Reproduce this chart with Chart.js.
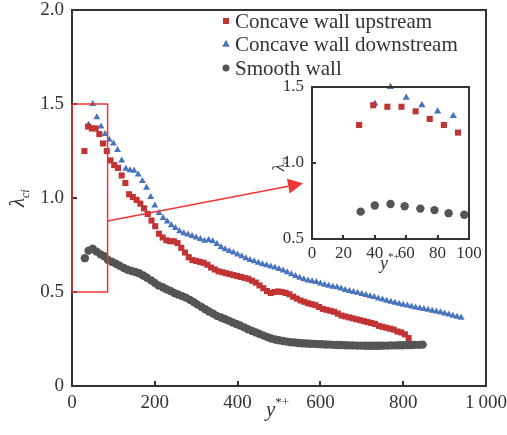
<!DOCTYPE html>
<html>
<head>
<meta charset="utf-8">
<script src="https://cdn.jsdelivr.net/npm/chart.js@4/dist/chart.umd.min.js"></script>
<style>
    body { margin: 0; background: #fff; }
    #wrap { position: relative; width: 507px; height: 435px; }
    #main { position: absolute; left: 0; top: 0; }
    #inset { position: absolute; left: 250px; top: 70px; }
</style>
</head>
<body>
<div id="wrap">
    <canvas id="main" width="507" height="435"></canvas>
    <canvas id="inset" width="240" height="210"></canvas>
</div>
<script>
// values (y*+ , lambda_ci)
var upstreamX = [30, 39, 48, 57, 66, 75, 84, 93, 102, 111, 120, 129, 138, 147, 156, 165, 174, 183, 192, 201,
    210, 219, 228, 237, 246, 255, 264, 273, 282, 291, 300, 309, 318, 327, 336, 345, 354, 363, 372, 381,
    390, 399, 408, 417, 426, 435, 444, 453, 462, 471, 480, 489, 498, 507, 516, 525, 534, 543, 552, 561,
    570, 579, 588, 597, 606, 615, 624, 633, 642, 651, 660, 669, 678, 687, 696, 705, 714, 723, 732, 741,
    750, 759, 768, 777, 786, 795, 804, 813];
var upstreamY = [1.25, 1.38, 1.37, 1.37, 1.34, 1.29, 1.25, 1.20, 1.175, 1.16, 1.12, 1.08, 1.02, 1.005, 0.99, 0.97, 0.945, 0.915, 0.88, 0.85,
    0.81, 0.79, 0.775, 0.77, 0.77, 0.76, 0.735, 0.71, 0.685, 0.67, 0.665, 0.66, 0.655, 0.645, 0.63, 0.62, 0.61, 0.605, 0.6, 0.595,
    0.59, 0.585, 0.58, 0.575, 0.57, 0.56, 0.55, 0.535, 0.52, 0.505, 0.495, 0.5, 0.503, 0.5, 0.495, 0.488, 0.475, 0.465, 0.455, 0.448,
    0.44, 0.435, 0.43, 0.42, 0.41, 0.405, 0.4, 0.395, 0.385, 0.375, 0.37, 0.365, 0.36, 0.355, 0.35, 0.345, 0.34, 0.335, 0.33, 0.32,
    0.315, 0.31, 0.305, 0.3, 0.29, 0.285, 0.275, 0.255];

var downstreamX = [40, 50, 60, 70, 80, 90, 100, 110, 120, 130, 140, 150, 160, 170, 180, 190, 200, 210, 220, 230,
    240, 250, 260, 270, 280, 290, 300, 310, 320, 330, 340, 350, 360, 370, 380, 390, 400, 410, 420, 430,
    440, 450, 460, 470, 480, 490, 500, 510, 520, 530, 540, 550, 560, 570, 580, 590, 600, 610, 620, 630,
    640, 650, 660, 670, 680, 690, 700, 710, 720, 730, 740, 750, 760, 770, 780, 790, 800, 810, 820, 830,
    840, 850, 860, 870, 880, 890, 900, 910, 920, 930, 940];
var downstreamY = [1.39, 1.5, 1.43, 1.38, 1.34, 1.31, 1.29, 1.255, 1.2, 1.155, 1.147, 1.145, 1.125, 1.09, 1.055, 1.005, 0.96, 0.92, 0.893, 0.875,
    0.855, 0.84, 0.823, 0.813, 0.806, 0.798, 0.79, 0.782, 0.772, 0.776, 0.77, 0.755, 0.738, 0.727, 0.718, 0.71, 0.7, 0.69, 0.68, 0.67,
    0.663, 0.655, 0.648, 0.642, 0.636, 0.63, 0.622, 0.615, 0.605, 0.595, 0.585, 0.576, 0.568, 0.561, 0.557, 0.553, 0.545, 0.538, 0.533, 0.528,
    0.525, 0.518, 0.51, 0.505, 0.5, 0.496, 0.49, 0.484, 0.478, 0.473, 0.466, 0.46, 0.453, 0.448, 0.443, 0.438, 0.432, 0.428, 0.423, 0.418,
    0.413, 0.41, 0.405, 0.4, 0.396, 0.392, 0.386, 0.38, 0.374, 0.368, 0.363];

var smoothX = [31, 40, 50, 59, 69, 78, 87, 97, 106, 115, 125, 134, 144, 153, 162, 172, 181, 191,
    200, 209, 219, 228, 238, 247, 256, 266, 275, 285, 294, 303, 313, 322, 331, 341, 350, 360, 369, 378,
    388, 397, 406, 416, 425, 435, 444, 453, 463, 472, 481, 491, 500, 510, 519, 528, 538, 547, 556, 566,
    575, 585, 594, 603, 613, 622, 632, 641, 650, 660, 669, 678, 688, 697, 707, 716, 725, 735, 744, 753,
    763, 772, 782, 791, 800, 810, 819, 828, 838, 847];
var smoothY = [0.68, 0.72, 0.73, 0.715, 0.70, 0.69, 0.67, 0.66, 0.65, 0.64, 0.628, 0.618, 0.612, 0.606, 0.6, 0.588, 0.576, 0.562,
    0.548, 0.535, 0.525, 0.515, 0.505, 0.495, 0.487, 0.478, 0.47, 0.458, 0.446, 0.433, 0.42, 0.408, 0.396, 0.385, 0.373, 0.364, 0.356, 0.348,
    0.338, 0.33, 0.322, 0.312, 0.302, 0.293, 0.285, 0.277, 0.268, 0.26, 0.253, 0.247, 0.243, 0.239, 0.236, 0.233, 0.231, 0.229, 0.227, 0.226,
    0.225, 0.224, 0.223, 0.222, 0.221, 0.22, 0.219, 0.218, 0.218, 0.217, 0.216, 0.216, 0.215, 0.215, 0.214, 0.214, 0.214, 0.214, 0.214, 0.215,
    0.215, 0.216, 0.216, 0.217, 0.217, 0.218, 0.218, 0.219, 0.219, 0.22];

var seriesNames = ['Concave wall upstream', 'Concave wall downstream', 'Smooth wall'];
var mainXTicks = [0, 200, 400, 600, 800, 1000];
var mainYTicks = [0, 0.5, 1.0, 1.5, 2.0];
var insetXTicks = [0, 20, 40, 60, 80, 100];
var insetYTicks = [0.5, 1.0, 1.5];
var insetMaxX = 99;
var insetOffset = {x: 250, y: 70};
var zoomBox = {x0: 0, x1: 86, y0: 0.5, y1: 1.5};
var arrowFrom = {x: 86, y: 0.878};
var arrowTo = {x: 558, y: 1.078};

var RED = '#c23434';
var BLUE = '#4873bd';
var GRAY = '#555555';
var HILITE = '#ef3535';
var INK = '#333333';
var SERIF = '"Liberation Serif", "DejaVu Serif", serif';

var insetChart = null;

function toPoints(xs, ys, maxX) {
    var pts = [];
    xs.forEach(function (x, i) {
        if (maxX === undefined || x <= maxX) pts.push({x: x, y: ys[i]});
    });
    return pts;
}

function makeDatasets(maxX, r) {
    return [
        {label: seriesNames[0], data: toPoints(upstreamX, upstreamY, maxX), pointStyle: 'rect', clip: false,
            pointRadius: r.rect, backgroundColor: RED, borderWidth: 0, order: 1},
        {label: seriesNames[1], data: toPoints(downstreamX, downstreamY, maxX), pointStyle: 'triangle', clip: false,
            pointRadius: r.tri, backgroundColor: BLUE, borderWidth: 0, order: 2},
        {label: seriesNames[2], data: toPoints(smoothX, smoothY, maxX), pointStyle: 'circle', clip: false,
            pointRadius: r.circ, backgroundColor: GRAY, borderWidth: 0, order: 3}
    ];
}

function fixedTicks(values) {
    return function (scale) {
        scale.ticks = values.map(function (v) { return {value: v}; });
    };
}

// pin the axis box size and drop the extra label padding chart.js adds
function fitTo(width, height) {
    return function (scale) {
        if (width !== null) scale.width = width;
        if (height !== null) scale.height = height;
        scale.paddingLeft = 0;
        scale.paddingRight = 0;
        scale.paddingTop = 0;
        scale.paddingBottom = 0;
    };
}

function yLabel(v) {
    return v === 0 ? '0' : v.toFixed(1);
}

function xLabel(v) {
    return v === 1000 ? '1\u2009000' : String(v);
}

// box round a plot area with inward ticks on the bottom and left;
// src is the chart whose scales give the positions, ox/oy shift them onto ctx
function drawFrame(ctx, src, ox, oy, tickLen, lw) {
    var a = src.chartArea;
    var xs = src.scales.x, ys = src.scales.y;
    var l = Math.round(a.left + ox), t = Math.round(a.top + oy);
    var r = Math.round(a.right + ox), b = Math.round(a.bottom + oy);
    ctx.save();
    ctx.globalAlpha = 1;
    ctx.globalCompositeOperation = 'source-over';
    ctx.fillStyle = INK;
    ctx.fillRect(l - 1, t - 1, r - l + lw, lw);
    ctx.fillRect(l - 1, b - 1, r - l + lw, lw);
    ctx.fillRect(l - 1, t - 1, lw, b - t + lw);
    ctx.fillRect(r - 1, t - 1, lw, b - t + lw);
    xs.ticks.forEach(function (tk) {
        var p = Math.round(xs.getPixelForValue(tk.value) + ox);
        ctx.fillRect(p - 1, b - tickLen, lw, tickLen);
    });
    ys.ticks.forEach(function (tk) {
        var p = Math.round(ys.getPixelForValue(tk.value) + oy);
        ctx.fillRect(l, p - 1, tickLen, lw);
    });
    ctx.restore();
}

function drawYStarPlus(ctx, x, y, size) {
    ctx.save();
    ctx.fillStyle = INK;
    ctx.textAlign = 'left';
    ctx.textBaseline = 'alphabetic';
    ctx.font = 'italic ' + size + 'px ' + SERIF;
    ctx.fillText('y', x, y);
    var w = ctx.measureText('y').width;
    ctx.font = Math.round(size * 0.62) + 'px ' + SERIF;
    ctx.fillText('*+', x + w, y - size * 0.5);
    ctx.restore();
}

function drawLambda(ctx, cx, cy, size) {
    ctx.save();
    ctx.fillStyle = INK;
    ctx.translate(cx, cy);
    ctx.rotate(-Math.PI / 2);
    ctx.textAlign = 'left';
    ctx.textBaseline = 'alphabetic';
    ctx.font = 'italic ' + size + 'px ' + SERIF;
    var w = ctx.measureText('\u03bb').width;
    ctx.fillText('\u03bb', -w, size * 0.35);
    ctx.font = 'italic ' + Math.round(size * 0.55) + 'px ' + SERIF;
    ctx.fillText('ci', 0, size * 0.55);
    ctx.restore();
}

function drawMarker(ctx, style, x, y, s, color) {
    ctx.fillStyle = color;
    ctx.beginPath();
    if (style === 'rect') {
        ctx.rect(x - s / 2, y - s / 2, s, s);
    } else if (style === 'triangle') {
        ctx.moveTo(x, y - s * 0.6);
        ctx.lineTo(x + s * 0.55, y + s * 0.4);
        ctx.lineTo(x - s * 0.55, y + s * 0.4);
        ctx.closePath();
    } else {
        ctx.arc(x, y, s / 2, 0, Math.PI * 2);
    }
    ctx.fill();
}

var insetDecor = {
    id: 'insetDecor',
    afterDatasetsDraw: function (chart) {
        drawFrame(chart.ctx, chart, 0, 0, 4, 2);
        drawYStarPlus(chart.ctx, 130, 199, 18);
        drawLambda(chart.ctx, 28, 94, 17);
    }
};

var mainDecor = {
    id: 'mainDecor',
    afterDatasetsDraw: function (chart) {
        var ctx = chart.ctx;
        var xs = chart.scales.x, ys = chart.scales.y;
        drawFrame(ctx, chart, 0, 0, 5, 2);

        // the inset box is drawn again here, under the inset canvas
        if (insetChart) drawFrame(ctx, insetChart, insetOffset.x, insetOffset.y, 4, 2);

        // zoom rectangle and arrow to the inset
        ctx.save();
        ctx.strokeStyle = HILITE;
        ctx.fillStyle = HILITE;
        ctx.lineWidth = 1.5;
        var bx0 = xs.getPixelForValue(zoomBox.x0), bx1 = xs.getPixelForValue(zoomBox.x1);
        var by0 = ys.getPixelForValue(zoomBox.y0), by1 = ys.getPixelForValue(zoomBox.y1);
        ctx.strokeRect(bx0, by1, bx1 - bx0, by0 - by1);
        var ax0 = xs.getPixelForValue(arrowFrom.x), ay0 = ys.getPixelForValue(arrowFrom.y);
        var ax1 = xs.getPixelForValue(arrowTo.x), ay1 = ys.getPixelForValue(arrowTo.y);
        var ang = Math.atan2(ay1 - ay0, ax1 - ax0);
        var headLen = 15, headW = 7.5;
        var hx = ax1 - headLen * Math.cos(ang), hy = ay1 - headLen * Math.sin(ang);
        ctx.beginPath();
        ctx.moveTo(ax0, ay0);
        ctx.lineTo(hx, hy);
        ctx.stroke();
        ctx.beginPath();
        ctx.moveTo(ax1, ay1);
        ctx.lineTo(hx + headW * Math.sin(ang), hy - headW * Math.cos(ang));
        ctx.lineTo(hx - headW * Math.sin(ang), hy + headW * Math.cos(ang));
        ctx.closePath();
        ctx.fill();
        ctx.restore();

        // legend
        ctx.save();
        var styles = ['rect', 'triangle', 'circle'];
        var colors = [RED, BLUE, GRAY];
        var sizes = [6, 7, 7];
        var rows = [21, 44, 68];
        ctx.font = '21px ' + SERIF;
        ctx.textAlign = 'left';
        ctx.textBaseline = 'middle';
        seriesNames.forEach(function (name, i) {
            drawMarker(ctx, styles[i], 226, rows[i], sizes[i], colors[i]);
            ctx.fillStyle = INK;
            ctx.fillText(name, 235, rows[i] + 1);
        });
        ctx.restore();

        drawYStarPlus(ctx, 266, 416, 21);
        drawLambda(ctx, 17, 198, 21);
    }
};

// inset first, so the main chart can read its scales
insetChart = new Chart(document.getElementById('inset'), {
    type: 'scatter',
    data: {datasets: makeDatasets(insetMaxX, {rect: 4.3, tri: 4.2, circ: 4.2})},
    plugins: [insetDecor],
    options: {
        responsive: false,
        animation: false,
        devicePixelRatio: 1,
        layout: {padding: {top: 17, right: 21, left: 0, bottom: 0}},
        plugins: {legend: {display: false}, tooltip: {enabled: false}},
        scales: {
            x: {
                type: 'linear', min: 0, max: 100,
                afterBuildTicks: fixedTicks(insetXTicks),
                afterFit: fitTo(null, 41),
                grid: {display: false, drawTicks: false},
                border: {display: false},
                ticks: {padding: 4, color: INK, font: {family: SERIF, size: 17}, maxRotation: 0}
            },
            y: {
                type: 'linear', min: 0.5, max: 1.5,
                afterBuildTicks: fixedTicks(insetYTicks),
                afterFit: fitTo(62, null),
                grid: {display: false, drawTicks: false},
                border: {display: false},
                ticks: {padding: 8, color: INK, font: {family: SERIF, size: 17}, callback: yLabel}
            }
        }
    }
});

new Chart(document.getElementById('main'), {
    type: 'scatter',
    data: {datasets: makeDatasets(undefined, {rect: 4.3, tri: 4, circ: 4.2})},
    plugins: [mainDecor],
    options: {
        responsive: false,
        animation: false,
        devicePixelRatio: 1,
        layout: {padding: {top: 10, right: 21, left: 0, bottom: 0}},
        plugins: {legend: {display: false}, tooltip: {enabled: false}},
        scales: {
            x: {
                type: 'linear', min: 0, max: 1000,
                afterBuildTicks: fixedTicks(mainXTicks),
                afterFit: fitTo(null, 49),
                grid: {display: false, drawTicks: false},
                border: {display: false},
                ticks: {padding: 6, color: INK, font: {family: SERIF, size: 19}, maxRotation: 0,
                    callback: xLabel}
            },
            y: {
                type: 'linear', min: 0, max: 2,
                afterBuildTicks: fixedTicks(mainYTicks),
                afterFit: fitTo(72, null),
                grid: {display: false, drawTicks: false},
                border: {display: false},
                ticks: {padding: 8, color: INK, font: {family: SERIF, size: 19}, callback: yLabel}
            }
        }
    }
});
</script>
</body>
</html>
